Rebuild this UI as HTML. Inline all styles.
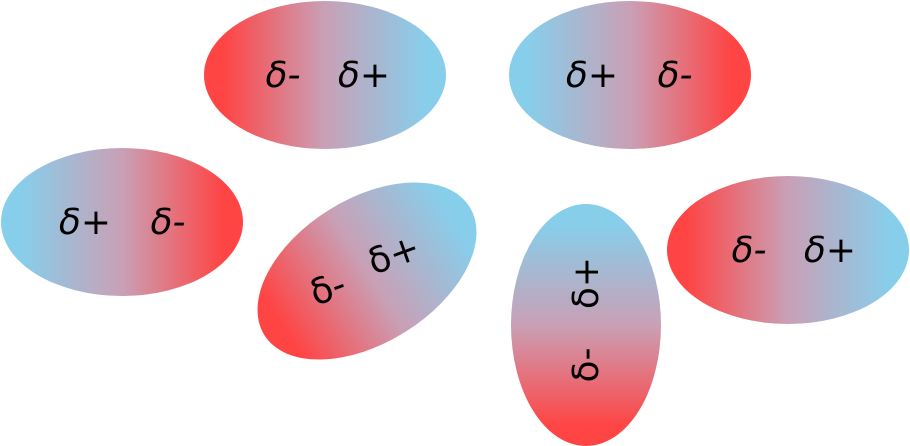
<!DOCTYPE html>
<html><head><style>html,body{margin:0;padding:0;background:#fff;}svg{display:block}</style></head>
<body>
<svg width="910" height="446" viewBox="0 0 910 446" xmlns="http://www.w3.org/2000/svg" font-family="DejaVu Sans, Liberation Sans, sans-serif" font-size="36">
<defs>
<linearGradient id="rb" x1="0" y1="0" x2="1" y2="0">
<stop offset="0.08" stop-color="#ff4444"/><stop offset="0.5" stop-color="#c9a0b6"/><stop offset="0.92" stop-color="#87ceeb"/>
</linearGradient>
<linearGradient id="br" x1="0" y1="0" x2="1" y2="0">
<stop offset="0.08" stop-color="#87ceeb"/><stop offset="0.5" stop-color="#c9a0b6"/><stop offset="0.92" stop-color="#ff4444"/>
</linearGradient>
<linearGradient id="bt" x1="0" y1="0" x2="0" y2="1">
<stop offset="0.08" stop-color="#87ceeb"/><stop offset="0.5" stop-color="#c9a0b6"/><stop offset="0.92" stop-color="#ff4444"/>
</linearGradient>
</defs>
<g text-anchor="middle" font-style="italic">
<ellipse cx="325" cy="75" rx="121" ry="74" fill="url(#rb)"/>
<text x="283" y="87">δ-</text><text x="364" y="87">δ+</text>
<ellipse cx="630" cy="75" rx="121" ry="74" fill="url(#br)"/>
<text x="592" y="87">δ+</text><text x="675" y="87">δ-</text>
<ellipse cx="122" cy="222" rx="121" ry="74" fill="url(#br)"/>
<text x="85" y="234">δ+</text><text x="168" y="234">δ-</text>
<ellipse cx="788" cy="250" rx="121" ry="74" fill="url(#rb)"/>
<text x="749" y="262">δ-</text><text x="830" y="262">δ+</text>
</g>
<g transform="translate(367,271) rotate(-32)">
<ellipse cx="0" cy="0" rx="121" ry="72" fill="url(#rb)"/>
</g>
<text transform="translate(332,300) rotate(-20)" text-anchor="middle">δ-</text>
<text transform="translate(398,266) rotate(-20)" text-anchor="middle">δ+</text>
<ellipse cx="586" cy="325" rx="75" ry="121" fill="url(#bt)"/>
<text transform="translate(598,365) rotate(-90)" text-anchor="middle">δ-</text>
<text transform="translate(598,283) rotate(-90)" text-anchor="middle">δ+</text>
</svg>
</body></html>
